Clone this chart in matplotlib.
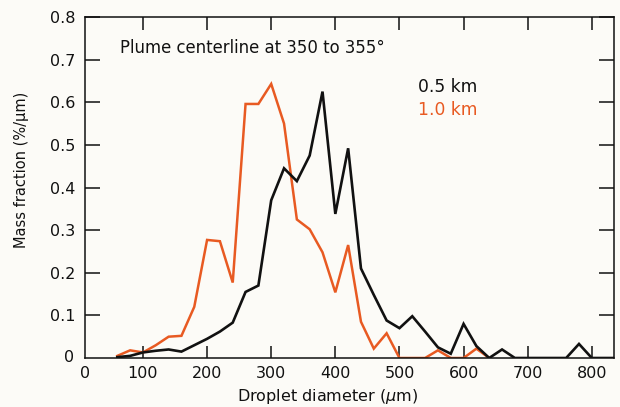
import matplotlib
matplotlib.use("Agg")
import matplotlib.pyplot as plt

plt.rcParams['font.family'] = ['DejaVu Sans']
plt.rcParams['mathtext.fontset'] = 'dejavusans'

# Droplet diameter (um)
diam_05 = [60, 80, 100, 120, 140, 160, 180, 200, 220, 240, 260, 280, 300, 320, 340,
           360, 380, 400, 420, 440, 460, 480, 500, 520, 540, 560, 580, 600, 620, 640,
           660, 680, 700, 720, 740, 760, 780, 800, 820, 840]
mass_05 = [0.002, 0.005, 0.013, 0.017, 0.02, 0.015, 0.03, 0.045, 0.062, 0.083, 0.155,
           0.17, 0.37, 0.445, 0.415, 0.475, 0.625, 0.338, 0.492, 0.21, 0.148, 0.088,
           0.07, 0.098, 0.062, 0.025, 0.01, 0.08, 0.028, 0.0, 0.02, 0.0, 0.0, 0.0,
           0.0, 0.0, 0.033, 0.0, 0.0, 0.0]

diam_10 = [60, 80, 100, 120, 140, 160, 180, 200, 220, 240, 260, 280, 300, 320, 340,
           360, 380, 400, 420, 440, 460, 480, 500, 520, 540, 560, 580, 600, 620, 640]
mass_10 = [0.005, 0.018, 0.013, 0.03, 0.05, 0.052, 0.12, 0.277, 0.274, 0.177, 0.596,
           0.596, 0.643, 0.55, 0.325, 0.302, 0.248, 0.154, 0.265, 0.085, 0.022, 0.058,
           0.0, 0.0, 0.0, 0.018, 0.0, 0.0, 0.022, 0.0]

x_ticks = [100, 200, 300, 400, 500, 600, 700, 800]
y_ticks = [0.1, 0.2, 0.3, 0.4, 0.5, 0.6, 0.7, 0.8]

BLACK = '#111111'
ORANGE = '#E85A22'
BG = '#FCFBF7'
FS = 11.5

W, H = 620, 407
fig = plt.figure(figsize=(W / 100, H / 100), dpi=100, facecolor=BG)
ax = fig.add_axes([85 / W, 49 / H, 529 / W, 341 / H])
ax.set_facecolor(BG)

ax.plot(diam_10, mass_10, color=ORANGE, lw=1.8, solid_joinstyle='miter')
ax.plot(diam_05, mass_05, color=BLACK, lw=1.9, solid_joinstyle='miter')

ax.set_xlim(9.6, 834.6)
ax.set_ylim(0, 0.8)
ax.set_xticks(x_ticks)
ax.set_xticklabels([str(v) for v in x_ticks])
ax.set_yticks(y_ticks)
ax.set_yticklabels([f'{v:.1f}' for v in y_ticks])

for s in ax.spines.values():
    s.set_linewidth(1.1)
    s.set_color(BLACK)

ax.tick_params(axis='x', direction='in', length=9, width=1.1, top=True, bottom=True,
               labelsize=FS, pad=6, colors=BLACK)
ax.tick_params(axis='y', direction='in', length=11, width=1.1, left=True, right=True,
               labelsize=FS, pad=7, colors=BLACK)

# zero labels at the corner
ax.text(0, -0.022, '0', transform=ax.transAxes, ha='center', va='top', fontsize=FS, color=BLACK)
ax.text(-0.02, 0.0, '0', transform=ax.transAxes, ha='right', va='center', fontsize=FS, color=BLACK)

ax.text(0.066, 0.909, 'Plume centerline at 350 to 355°', transform=ax.transAxes,
        ha='left', va='center', fontsize=11.9, color=BLACK)
ax.text(0.63, 0.795, '0.5 km', transform=ax.transAxes, ha='left', va='center',
        fontsize=12.3, color=BLACK)
ax.text(0.63, 0.727, '1.0 km', transform=ax.transAxes, ha='left', va='center',
        fontsize=12.3, color=ORANGE)

fig.text(22 / W, 1 - 170 / H, 'Mass fraction (%/µm)', rotation=90, ha='center',
         va='center', fontsize=10.5, color=BLACK)
fig.text(328 / W, 1 - 396 / H, r'Droplet diameter ($\mu$m)', ha='center', va='center',
         fontsize=FS, color=BLACK)

fig.savefig('out.png', dpi=100, facecolor=BG)
